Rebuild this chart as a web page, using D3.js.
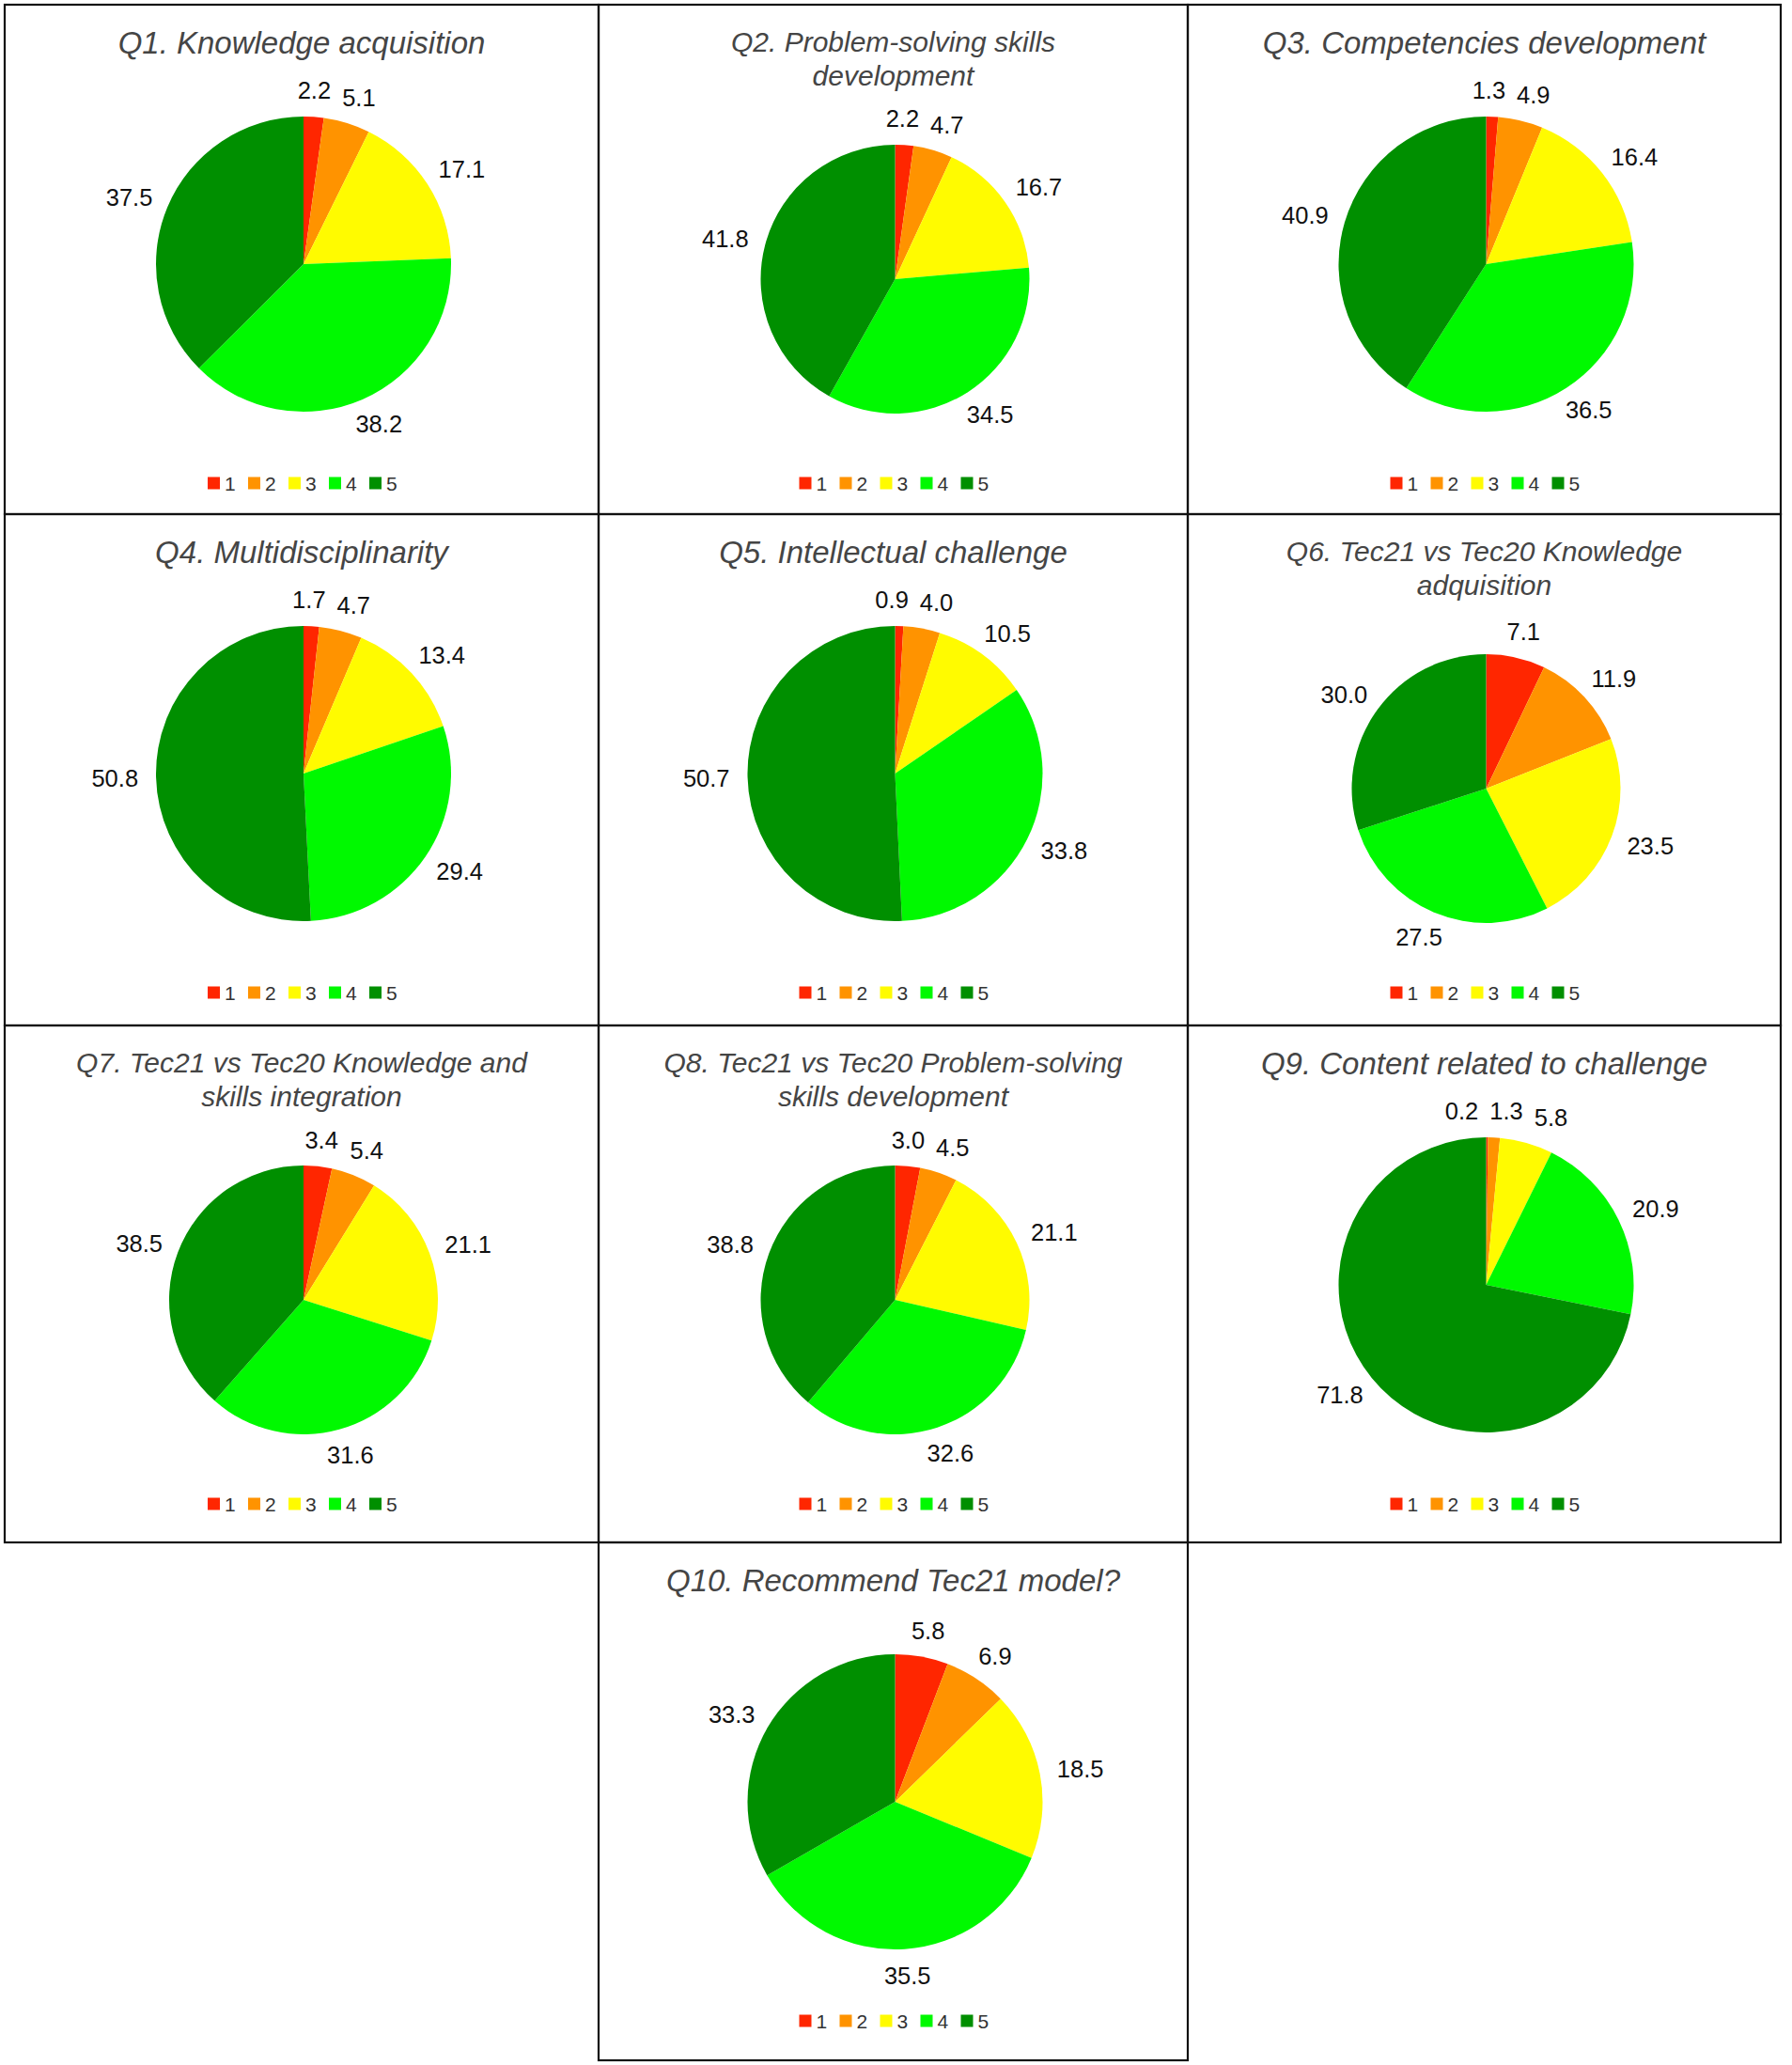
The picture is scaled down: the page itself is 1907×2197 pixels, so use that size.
<!DOCTYPE html>
<html>
<head>
<meta charset="utf-8">
<script src="https://cdn.jsdelivr.net/npm/d3@7"></script>
<style>
  body { margin: 0; background: #fff; }
  text { font-family: "Helvetica Neue", Helvetica, "Liberation Sans", Arial, sans-serif; }
</style>
</head>
<body>
<svg></svg>
<script>
let categories = [ '1', '2', '3', '4', '5' ]
let colors = [ '#ff2600', '#ff9300', '#fffb00', '#00f900', '#008f00' ]

let titles = [
  [ 'Q1. Knowledge acquisition' ],
  [ 'Q2. Problem-solving skills', 'development' ],
  [ 'Q3. Competencies development' ],
  [ 'Q4. Multidisciplinarity' ],
  [ 'Q5. Intellectual challenge' ],
  [ 'Q6. Tec21 vs Tec20 Knowledge', 'adquisition' ],
  [ 'Q7. Tec21 vs Tec20 Knowledge and', 'skills integration' ],
  [ 'Q8. Tec21 vs Tec20 Problem-solving', 'skills development' ],
  [ 'Q9. Content related to challenge' ],
  [ 'Q10. Recommend Tec21 model?' ]
]

// percentage of answers 1..5 for each question
let q1 = [ 2.2, 5.1, 17.1, 38.2, 37.5 ]
let q2 = [ 2.2, 4.7, 16.7, 34.5, 41.8 ]
let q3 = [ 1.3, 4.9, 16.4, 36.5, 40.9 ]
let q4 = [ 1.7, 4.7, 13.4, 29.4, 50.8 ]
let q5 = [ 0.9, 4.0, 10.5, 33.8, 50.7 ]
let q6 = [ 7.1, 11.9, 23.5, 27.5, 30.0 ]
let q7 = [ 3.4, 5.4, 21.1, 31.6, 38.5 ]
let q8 = [ 3.0, 4.5, 21.1, 32.6, 38.8 ]
let q9 = [ 0.2, 1.3, 5.8, 20.9, 71.8 ]
let q10 = [ 5.8, 6.9, 18.5, 35.5, 33.3 ]

let answers = [ q1, q2, q3, q4, q5, q6, q7, q8, q9, q10 ]

let width = 1907
let height = 2197

// panel grid edges and the cell of each question
let cols = [ 5, 637, 1264, 1895 ]
let rows = [ 5, 547, 1091, 1641, 2192 ]
let cells = [ [ 0, 0 ], [ 1, 0 ], [ 2, 0 ], [ 0, 1 ], [ 1, 1 ], [ 2, 1 ], [ 0, 2 ], [ 1, 2 ], [ 2, 2 ], [ 1, 3 ] ]

let labelSize = 25.5
let capHeight = labelSize * 0.716

const color =
d3.scaleOrdinal()
  .domain( categories )
  .range( colors )

const pie =
d3.pie()
  .sort( null )
  .value( d => d )

const fmt = d3.format( '.1f' )

let svg =
d3.select( 'svg' )
  .attr( 'width', width )
  .attr( 'height', height )

svg.append( 'rect' )
  .attr( 'width', width )
  .attr( 'height', height )
  .attr( 'fill', '#fff' )

answers.forEach( ( values, i ) => {
  let [ c, r ] = cells[ i ]
  let x0 = cols[ c ], x1 = cols[ c + 1 ]
  let y0 = rows[ r ], y1 = rows[ r + 1 ]
  let lines = titles[ i ]
  let twoLines = lines.length > 1
  let mid = ( x0 + x1 ) / 2
  let cx = mid + 2
  let cy = y0 + ( twoLines ? 292 : 276 )
  let radius = twoLines ? 143 : 157

  let panel = svg.append( 'g' )

  panel.append( 'rect' )
    .attr( 'x', x0 )
    .attr( 'y', y0 )
    .attr( 'width', x1 - x0 )
    .attr( 'height', y1 - y0 )
    .attr( 'fill', 'none' )
    .attr( 'stroke', '#111' )
    .attr( 'stroke-width', 2.2 )

  panel.selectAll( 'text.title' )
    .data( lines )
    .enter()
    .append( 'text' )
    .attr( 'class', 'title' )
    .text( d => d )
    .attr( 'x', mid )
    .attr( 'y', ( d, k ) => twoLines ? y0 + 50 + k * 36 : y0 + 52 )
    .attr( 'text-anchor', 'middle' )
    .attr( 'font-size', twoLines ? 30 : 33 )
    .attr( 'font-style', 'italic' )
    .attr( 'fill', '#454545' )

  let arc =
  d3.arc()
    .innerRadius( 0 )
    .outerRadius( radius )

  let labelArc =
  d3.arc()
    .innerRadius( radius + 19 )
    .outerRadius( radius + 19 )

  let slices = pie( values )

  let chart =
  panel.append( 'g' )
    .attr( 'transform', `translate(${ cx },${ cy })` )

  chart.selectAll( 'path' )
    .data( slices )
    .enter()
    .append( 'path' )
    .attr( 'd', arc )
    .attr( 'fill', ( d, k ) => color( categories[ k ] ) )

  let labels =
  chart.selectAll( 'text' )
    .data( slices )
    .enter()
    .append( 'text' )
    .text( d => fmt( d.data ) )
    .attr( 'text-anchor', 'middle' )
    .attr( 'font-size', labelSize )
    .attr( 'fill', '#111' )

  // push each label out so its nearest edge sits on the label ring
  let boxes = []
  labels.each( function( d ) {
    let a = ( d.startAngle + d.endAngle ) / 2
    let [ px, py ] = labelArc.centroid( d )
    let w = this.getComputedTextLength()
    boxes.push( { x: px + Math.sin( a ) * w / 2, y: py - Math.cos( a ) * capHeight / 2, w: w } )
  } )

  // nudge apart labels that collide
  for ( let it = 0; it < 60; it++ ) {
    for ( let a = 0; a < boxes.length; a++ ) {
      for ( let b = a + 1; b < boxes.length; b++ ) {
        let A = boxes[ a ], B = boxes[ b ]
        let need = ( A.w + B.w ) / 2 + 12
        let dx = B.x - A.x
        if ( Math.abs( dx ) < need && Math.abs( B.y - A.y ) < capHeight + 4 ) {
          let push = ( need - Math.abs( dx ) ) / 2
          let s = dx >= 0 ? 1 : -1
          A.x -= s * push
          B.x += s * push
        }
      }
    }
  }

  labels
    .attr( 'x', ( d, k ) => boxes[ k ].x )
    .attr( 'y', ( d, k ) => boxes[ k ].y + capHeight / 2 )

  // legend
  let ly = y0 + 509
  let legendX =
  d3.scaleBand()
    .domain( categories )
    .range( [ cx - 102, cx - 102 + 5 * 43 ] )

  let legend =
  panel.selectAll( 'g.legend' )
    .data( categories )
    .enter()
    .append( 'g' )
    .attr( 'class', 'legend' )
    .attr( 'transform', d => `translate(${ legendX( d ) },${ ly })` )

  legend.append( 'rect' )
    .attr( 'x', 0 )
    .attr( 'y', -6.5 )
    .attr( 'width', 13 )
    .attr( 'height', 13 )
    .attr( 'fill', d => color( d ) )

  legend.append( 'text' )
    .text( d => d )
    .attr( 'x', 18 )
    .attr( 'y', 8 )
    .attr( 'font-size', 21 )
    .attr( 'fill', '#333' )
} )
</script>
</body>
</html>
